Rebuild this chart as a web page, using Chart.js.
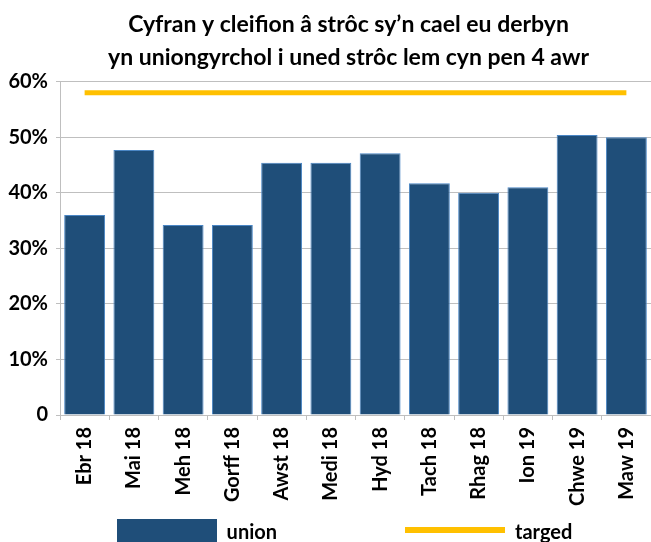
<!DOCTYPE html>
<html>
<head>
<meta charset="utf-8">
<script src="https://cdn.jsdelivr.net/npm/chart.js@4"></script>
<style>
  html, body { margin: 0; padding: 0; background: #fff; overflow: hidden; }
  #wrap { width: 651px; height: 542px; overflow: hidden; }
</style>
</head>
<body>
<div id="wrap"><canvas id="chart" width="651" height="553"></canvas></div>
<script>
// data
const titleLines = ["Cyfran y cleifion â strôc sy’n cael eu derbyn", "yn uniongyrchol i uned strôc lem cyn pen 4 awr"];
const months = ["Ebr 18", "Mai 18", "Meh 18", "Gorff 18", "Awst 18", "Medi 18", "Hyd 18", "Tach 18", "Rhag 18", "Ion 19", "Chwe 19", "Maw 19"];
const union = [36.0, 47.7, 34.2, 34.2, 45.4, 45.4, 47.1, 41.7, 40.0, 41.0, 50.4, 50.0];
const targed = [58, 58, 58, 58, 58, 58, 58, 58, 58, 58, 58, 58];
const yTicks = [0, 10, 20, 30, 40, 50, 60];

const navy = "#1F4E79";
const gold = "#FFC000";
const grey = "#BFBFBF";

Chart.defaults.font.family = "Lato, 'Open Sans', sans-serif";
Chart.defaults.font.weight = "bold";
Chart.defaults.color = "#000";

// small canvases used as legend swatches (wide box / thick line)
function swatch(w, h, draw) {
  const c = document.createElement("canvas");
  c.width = w; c.height = h;
  draw(c.getContext("2d"));
  return c;
}
const boxSwatch = swatch(100, 28, g => { g.fillStyle = navy; g.fillRect(0, 0, 100, 28); });
const lineSwatch = swatch(100, 12, g => { g.fillStyle = gold; g.fillRect(0, 0, 100, 6); });
const blankSwatch = swatch(100, 12, () => {});

// the original's title and legend sit a little left of the plot centre
const nudgeLeft = {
  id: "nudgeLeft",
  afterLayout(chart) {
    chart.titleBlock.left -= 7; chart.titleBlock.right -= 7;
    chart.legend.left -= 11; chart.legend.right -= 11;
  },
};

var ctx = document.getElementById("chart").getContext("2d");

new Chart(ctx, {
  type: "bar",
  data: {
    labels: months,
    datasets: [
      {
        label: "union",
        data: union,
        backgroundColor: navy,
        borderColor: "#4A86C5",
        borderWidth: 1,
        barPercentage: 0.83,
        categoryPercentage: 1,
        order: 2,
      },
      {
        label: "targed",
        type: "line",
        data: targed,
        borderColor: gold,
        borderWidth: 5,
        pointRadius: 0,
        fill: false,
        order: 1,
      },
    ],
  },
  plugins: [nudgeLeft],
  options: {
    responsive: false,
    animation: false,
    layout: { padding: 0 },
    plugins: {
      tooltip: { enabled: false },
      title: {
        display: true,
        text: titleLines,
        fullSize: false,
        font: { size: 23, weight: "bold", lineHeight: 1.45 },
        padding: { top: 8, bottom: 7 },
        color: "#000",
      },
      legend: {
        position: "bottom",
        fullSize: false,
        onClick: () => {},
        labels: {
          usePointStyle: true,
          pointStyleWidth: 100,
          padding: 9,
          font: { size: 20, weight: "bold" },
          color: "#000",
          // an empty middle item keeps the wide gap between the two entries
          generateLabels: chart => {
            const ds = chart.data.datasets;
            return [
              { text: ds[0].label, pointStyle: boxSwatch, datasetIndex: 0, hidden: false, lineWidth: 0 },
              { text: "", pointStyle: blankSwatch, hidden: false, lineWidth: 0 },
              { text: ds[1].label, pointStyle: lineSwatch, datasetIndex: 1, hidden: false, lineWidth: 0 },
            ];
          },
        },
      },
    },
    scales: {
      x: {
        grid: {
          offset: true,
          drawOnChartArea: false,
          tickLength: 5,
          color: grey,
        },
        border: { color: grey },
        ticks: {
          minRotation: 90,
          maxRotation: 90,
          padding: 7,
          font: { size: 20, weight: "bold" },
        },
        // plot runs right up to the edge, as in the original
        afterFit: s => { s.height = 99; s.paddingLeft = 0; s.paddingRight = 0; },
      },
      y: {
        min: 0,
        max: 60,
        afterBuildTicks: s => { s.ticks = yTicks.map(v => ({ value: v })); },
        grid: { color: grey, tickLength: 4 },
        border: { color: grey },
        ticks: {
          padding: 8,
          font: { size: 20, weight: "bold" },
          callback: v => (v === 0 ? "0" : v + "%"),
        },
        afterFit: s => { s.width = 60; },
      },
    },
  },
});
</script>
</body>
</html>
